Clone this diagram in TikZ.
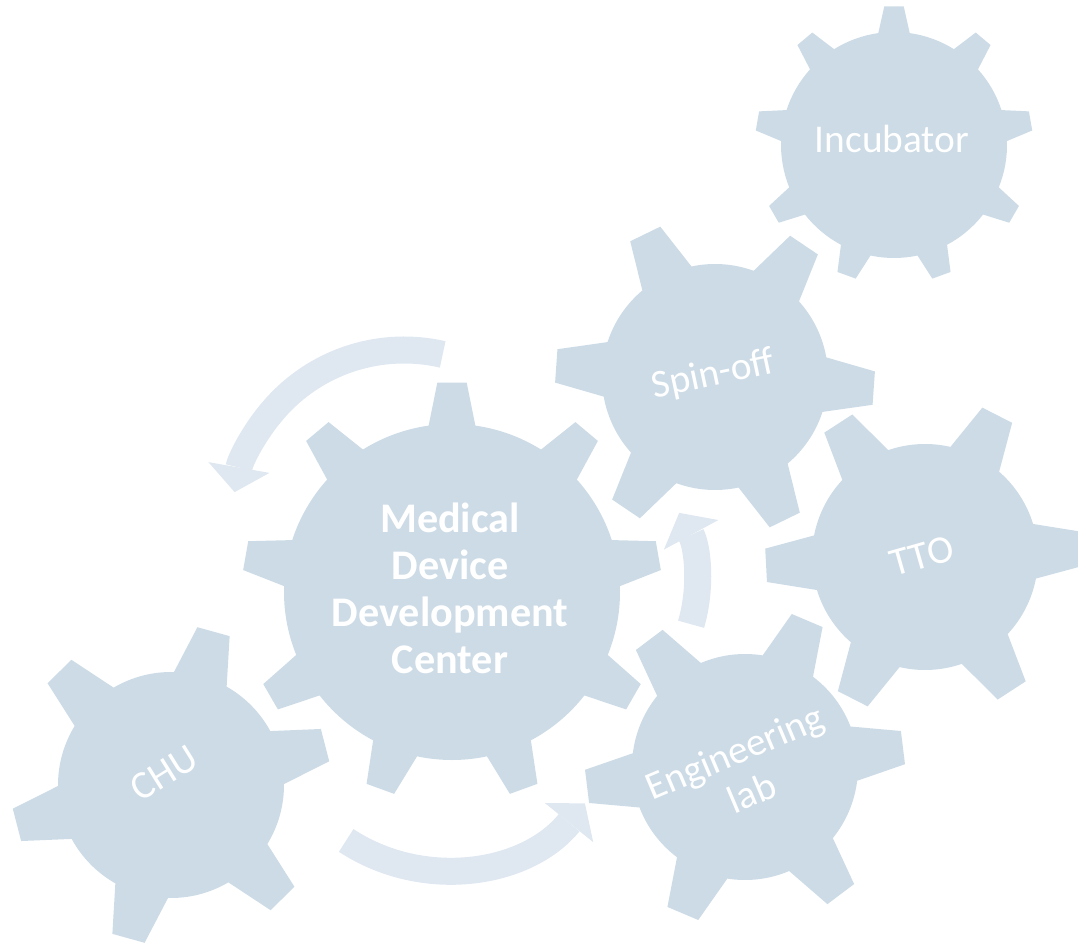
\documentclass[tikz,border=0pt]{standalone}
\usepackage{fontspec}
\setmainfont{Carlito}
\usepackage{tikz}
\usetikzlibrary{calc,arrows.meta}
\definecolor{GearBlue}{RGB}{204,219,230}
\definecolor{FlowBlue}{RGB}{223,232,240}
\tikzset{
  gearfill/.style={fill=GearBlue},
  flow/.style={draw=FlowBlue,line width=0.675cm,
    -{Triangle[width=1.55cm,length=0.625cm,line width=0pt]}},
  gearlabel/.style={text=white,inner sep=0pt,align=center,font=\fontsize{28}{31.5}\selectfont},
  hub/.style={gearlabel,font=\fontsize{30}{33.3}\selectfont\bfseries},
  pics/gear/.style args={#1/#2/#3/#4/#5/#6}{code={
    \pgfmathsetmacro\gstep{360/#1}
    \fill[gearfill] ({#4-#5}:#2)
      \foreach \k in {1,...,#1}{
        -- ({#4+(\k-1)*\gstep-#6}:#3) -- ({#4+(\k-1)*\gstep+#6}:#3)
        -- ({#4+(\k-1)*\gstep+#5}:#2)
        arc[start angle={#4+(\k-1)*\gstep+#5},end angle={#4+\k*\gstep-#5},radius=#2]
      } -- cycle;
  }},
}

\begin{document}
\begin{tikzpicture}[x=0.025cm,y=0.025cm]
\useasboundingbox (0,0) rectangle (1078,943);
\coordinate (mddc) at (452,351);
\coordinate (chu) at (171,158);
\coordinate (englab) at (745,176);
\coordinate (tto) at (925,386);
\coordinate (spinoff) at (715,566);
\coordinate (incub) at (894,798);
\coordinate (pivA) at (404,421);
\coordinate (pivB) at (445,253);
\coordinate (pivC) at (550,360);
\draw[flow] ($(pivA)+(77:172)$) arc[start angle=77,end angle=170,radius=172];
\draw[flow] ($(pivB)+(236.7:180)$) arc[start angle=236.7,end angle=321,radius=180];
\draw[flow] ($(pivC)+(-16.3:147)$) arc[start angle=-16.3,end angle=28.5,radius=147];
\pic at (mddc) {gear=9/168/210/90/8/4};
\pic at (incub) {gear=9/113/139/90/8/4};
\pic at (chu) {gear=6/113/160/14.5/14/6};
\pic at (spinoff) {gear=6/113/160/-4/14/6};
\pic at (tto) {gear=6/113/160/3/14/6};
\pic at (englab) {gear=6/113/160/7/14/6};
\node[hub] (mddclab) at (450,354.5) {Medical\\Device\\Development\\Center};
\node[gearlabel,anchor=base] (incublab) at (892,790) {Incubator};
\node[gearlabel,rotate=12] (spinofflab) at (713,568) {Spin-off};
\node[gearlabel,rotate=16] (ttolab) at (922,387) {TTO};
\node[gearlabel,rotate=32] (chulab) at (164,170) {CHU};
\node[gearlabel,rotate=23] (englablab) at (743,171) {Engineering\\lab};
\end{tikzpicture}
\end{document}
